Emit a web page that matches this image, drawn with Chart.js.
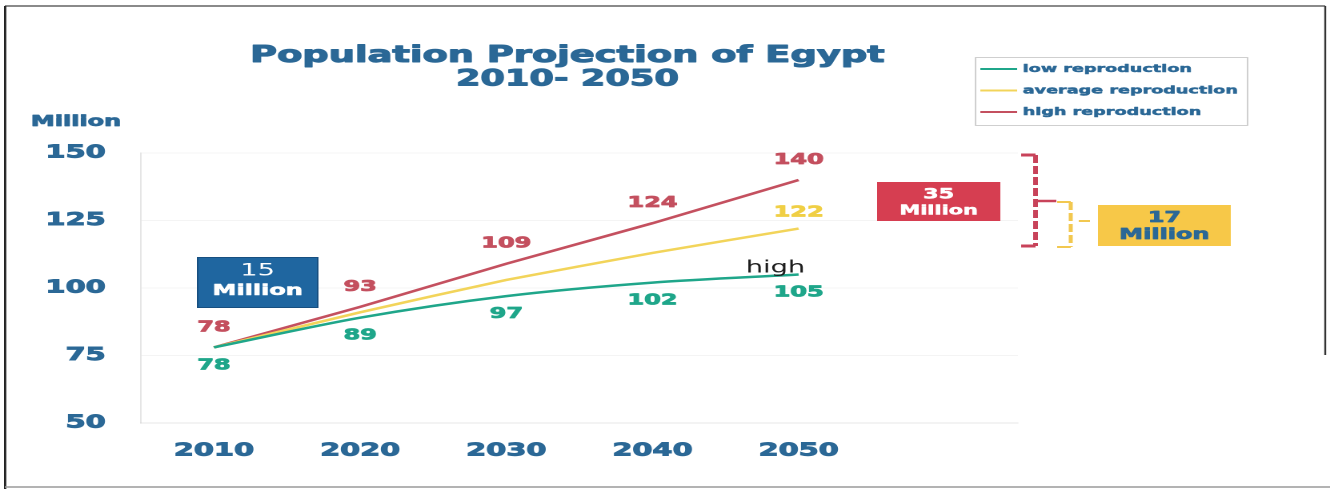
<!DOCTYPE html>
<html>
<head>
<meta charset="utf-8">
<script src="https://cdn.jsdelivr.net/npm/chart.js@4/dist/chart.umd.min.js"></script>
<style>
  html, body { margin: 0; padding: 0; background: #fff; overflow: hidden; }
  /* the slide artwork is wide: draw at 831px and stretch to 1330 */
  #wrap { width: 831px; height: 489px; transform: scaleX(1.6005); transform-origin: 0 0; }
</style>
</head>
<body>
<div id="wrap"><canvas id="popChart" width="831" height="489"></canvas></div>
<script>
const years = [2010, 2020, 2030, 2040, 2050];
const lowReproduction = [78, 89, 97, 102, 105];
const averageReproduction = [78, 91, 103, 113, 122];
const highReproduction = [78, 93, 109, 124, 140];
const yTicks = [50, 75, 100, 125, 150];
const seriesNames = ['low reproduction', 'average reproduction', 'high reproduction'];

const navy = '#2b6896';
const green = '#1fa68a';
const yellow = '#f2d45a';
const red = '#c4505f';
Chart.defaults.font.family = '"DejaVu Sans", sans-serif';

// labels above / below the line points, shifted in pixels
const valueLabels = [
  { ds: 0, values: lowReproduction, idx: [0, 1, 2, 3, 4], dy: 18, color: green },
  { ds: 1, values: averageReproduction, idx: [4], dy: -16, color: '#f0cf45' },
  { ds: 2, values: highReproduction, idx: [0, 1, 2, 3, 4], dy: -20, color: red }
];

// heavy text: fill plus a thin outline of the same colour
function text(ctx, str, x, y, font, color, align, heavy) {
  ctx.font = font;
  ctx.fillStyle = color;
  ctx.textAlign = align || 'center';
  ctx.textBaseline = 'middle';
  ctx.fillText(str, x, y);
  if (heavy) {
    ctx.strokeStyle = color;
    ctx.lineWidth = heavy;
    ctx.lineJoin = 'round';
    ctx.strokeText(str, x, y);
  }
}

function line(ctx, x1, y1, x2, y2, color, w, dash) {
  ctx.beginPath();
  ctx.strokeStyle = color;
  ctx.lineWidth = w;
  ctx.setLineDash(dash || []);
  ctx.moveTo(x1, y1);
  ctx.lineTo(x2, y2);
  ctx.stroke();
  ctx.setLineDash([]);
}

const slideDecor = {
  id: 'slideDecor',
  afterDatasetsDraw(chart) {
    const ctx = chart.ctx;
    ctx.save();
    valueLabels.forEach(l => {
      const meta = chart.getDatasetMeta(l.ds);
      l.idx.forEach(i => {
        const pt = meta.data[i];
        text(ctx, String(l.values[i]), pt.x, pt.y + l.dy, 'bold 15px "DejaVu Sans"', l.color, 'center', 0.8);
      });
    });
    text(ctx, 'high', 484.5, 268, '17px "DejaVu Sans"', '#1d1d1d');
    ctx.restore();
  },
  afterDraw(chart) {
    const ctx = chart.ctx;
    ctx.save();

    // frame of the slide
    line(ctx, 3, 6, 828, 6, '#444', 1.2);
    line(ctx, 3.2, 6, 3.2, 489, '#222', 1.4);
    line(ctx, 828, 6, 828, 355, '#333', 1.2);
    line(ctx, 3, 487, 831, 487, '#9a9a9a', 1.5);

    // title
    text(ctx, 'Population Projection of Egypt', 354.5, 56, 'bold 23px "DejaVu Sans"', navy, 'center', 1);
    text(ctx, '2010- 2050', 354.5, 80, 'bold 22px "DejaVu Sans"', navy, 'center', 1);
    text(ctx, 'Million', 47.5, 122, 'bold 15px "DejaVu Sans"', navy, 'center', 0.8);

    // legend
    ctx.strokeStyle = '#cfcfcf';
    ctx.lineWidth = 1;
    ctx.strokeRect(609.5, 57.5, 170, 68);
    const legendColors = [green, yellow, red];
    seriesNames.forEach((name, i) => {
      const y = 69 + i * 21.5;
      line(ctx, 612.5, y, 635.5, y, legendColors[i], 2);
      text(ctx, name, 639, y, 'bold 11px "DejaVu Sans"', navy, 'left', 0.5);
    });

    // difference boxes
    ctx.fillStyle = '#1f66a0';
    ctx.fillRect(123, 257, 76, 51);
    ctx.strokeStyle = '#174f80';
    ctx.lineWidth = 1;
    ctx.strokeRect(123.5, 257.5, 75, 50);
    text(ctx, '15', 161, 271, '17px "DejaVu Sans"', '#fff');
    text(ctx, 'Million', 161, 291, 'bold 15px "DejaVu Sans"', '#fff', 'center', 0.6);

    ctx.fillStyle = '#d63e51';
    ctx.fillRect(548, 182, 77, 39);
    text(ctx, '35', 586.5, 195, 'bold 14px "DejaVu Sans"', '#fff', 'center', 0.5);
    text(ctx, 'Million', 586.5, 211, 'bold 13px "DejaVu Sans"', '#fff', 'center', 0.5);

    ctx.fillStyle = '#f7c848';
    ctx.fillRect(686, 205, 83, 41);
    text(ctx, '17', 727.5, 218, 'bold 15px "DejaVu Sans"', navy, 'center', 0.7);
    text(ctx, 'Million', 727.5, 235, 'bold 15px "DejaVu Sans"', navy, 'center', 0.7);

    // brackets
    line(ctx, 638, 155, 647, 155, '#c8435a', 3);
    line(ctx, 647, 155, 647, 246, '#c8435a', 3, [8, 3]);
    line(ctx, 638, 246, 647, 246, '#c8435a', 3);
    line(ctx, 647, 201, 660, 201, '#c8435a', 2.5);

    line(ctx, 660.5, 202, 669, 202, '#f2c850', 2);
    line(ctx, 669, 202, 669, 247, '#f2c850', 2.5, [8, 3]);
    line(ctx, 660.5, 247, 669, 247, '#f2c850', 2);
    line(ctx, 674, 221, 681, 221, '#f2c850', 2);

    ctx.restore();
  }
};

const ctx = document.getElementById('popChart').getContext('2d');
const popChart = new Chart(ctx, {
  type: 'line',
  data: {
    datasets: [
      { label: seriesNames[0], data: years.map((y, i) => ({ x: y, y: lowReproduction[i] })), borderColor: green, borderWidth: 2.5, tension: 0.3 },
      { label: seriesNames[1], data: years.map((y, i) => ({ x: y, y: averageReproduction[i] })), borderColor: yellow, borderWidth: 2.5, tension: 0.1 },
      { label: seriesNames[2], data: years.map((y, i) => ({ x: y, y: highReproduction[i] })), borderColor: red, borderWidth: 2.5, tension: 0 }
    ]
  },
  options: {
    responsive: false,
    animation: false,
    devicePixelRatio: 2,
    elements: { point: { radius: 0 } },
    layout: { padding: { left: 0, right: 195, top: 153, bottom: 0 } },
    plugins: { legend: { display: false }, title: { display: false }, tooltip: { enabled: false } },
    scales: {
      x: {
        type: 'linear',
        min: 2005,
        max: 2065,
        afterBuildTicks: s => { s.ticks = years.map(v => ({ value: v })); },
        afterFit: s => { s.height = 66; },
        grid: { display: false, drawTicks: false },
        border: { color: 'rgba(0,0,0,0.06)' },
        ticks: { color: navy, font: { size: 18, weight: 'bold' }, padding: 17, maxRotation: 0, textStrokeColor: navy, textStrokeWidth: 0.9, callback: v => String(v) }
      },
      y: {
        min: 50,
        max: 150,
        afterBuildTicks: s => { s.ticks = yTicks.map(v => ({ value: v })); },
        afterFit: s => { s.width = 88; },
        grid: { color: 'rgba(0,0,0,0.045)', drawTicks: false },
        border: { color: 'rgba(0,0,0,0.1)' },
        ticks: { color: navy, font: { size: 18, weight: 'bold' }, padding: 22, textStrokeColor: navy, textStrokeWidth: 0.9 }
      }
    }
  },
  plugins: [slideDecor]
});
</script>
</body>
</html>
